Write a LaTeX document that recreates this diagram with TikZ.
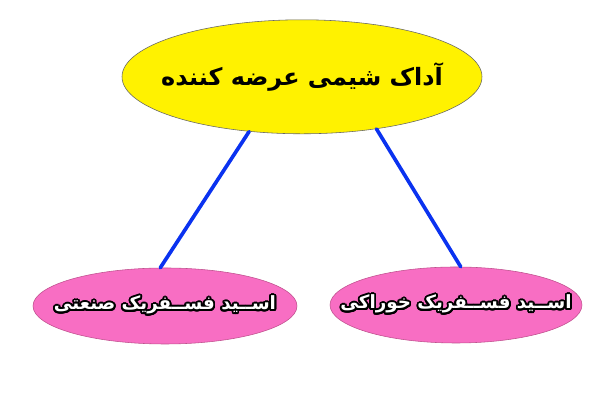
\documentclass[tikz,border=0pt]{standalone}
\usepackage{fontspec}
\usepackage[copies]{contour}
\usepackage{tikz}
\usetikzlibrary{shapes.geometric}
\TeXXeTstate=1
\newfontfamily\arabicfont[Script=Arabic,BoldFont={DejaVu Sans Bold}]{DejaVu Sans}
\definecolor{boxyellow}{HTML}{FFF200}
\definecolor{boxpink}{HTML}{F86EC3}
\definecolor{edgepink}{HTML}{C0508E}
\definecolor{linkblue}{HTML}{0A32F0}
\contourlength{1.3pt}
\contournumber{24}

\begin{document}
\begin{tikzpicture}[line cap=round,line join=round,x=1cm,y=1cm,
  topbox/.style={ellipse,draw=black!60,line width=0.4pt,fill=boxyellow,
    minimum width=9cm,minimum height=2.85cm,inner xsep=-2cm,inner ysep=0pt,
    font=\arabicfont\bfseries\fontsize{17}{20}\selectfont},
  kindbox/.style={ellipse,draw=edgepink,line width=0.4pt,fill=boxpink,
    minimum height=1.9cm,inner xsep=-2cm,inner ysep=0pt,
    font=\arabicfont\bfseries\fontsize{13}{16}\selectfont},
  link/.style={draw=linkblue,line width=2.6pt}]
\useasboundingbox (0,0) rectangle (15,10);
\fill[white] (0,0) rectangle (15,10);
% boxes
\node[topbox] (supplier) at (7.55,8.08) {\beginR آداک شیمی عرضه کننده\endR};
\node[kindbox,minimum width=6.6cm] (industrial) at (4.125,2.35)
  {\contour{black}{\color{white}\beginR اســید فســفریک صنعتی\endR}};
\node[kindbox,minimum width=6.3cm] (food) at (11.4,2.375)
  {\contour{black}{\color{white}\beginR اســید فســفریک خوراکی\endR}};
% links
\draw[link] (supplier.226) -- (industrial.97);
\draw[link] (supplier.325) -- (food.83);
\end{tikzpicture}
\end{document}
